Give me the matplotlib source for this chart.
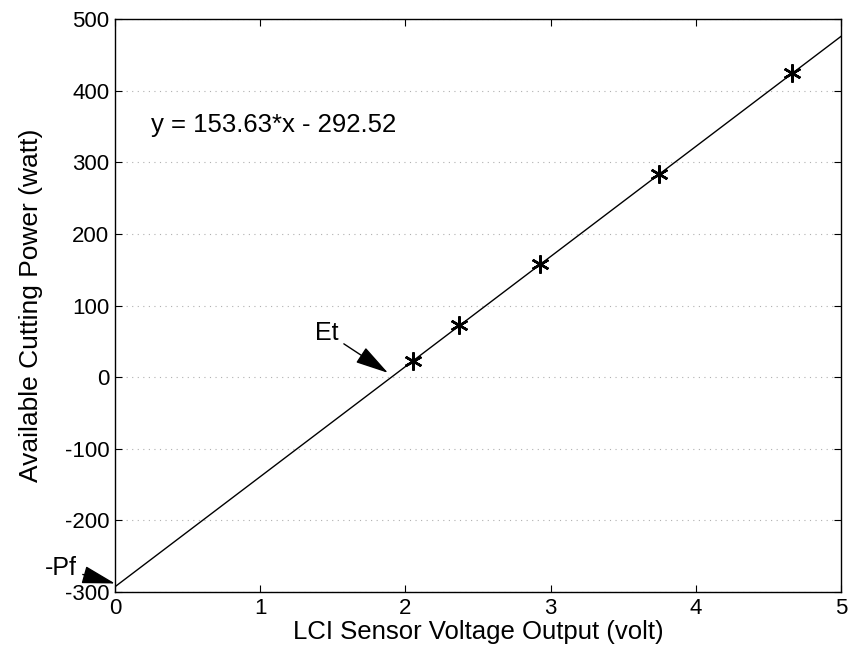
import numpy as np
import matplotlib.pyplot as plt

plt.rcParams['font.family'] = ['Liberation Sans', 'DejaVu Sans']
plt.rcParams['axes.unicode_minus'] = False

# measured points (volt, watt)
volts = [2.05, 2.37, 2.93, 3.75, 4.66]
power = [22, 73, 158, 284, 425]

# linear fit shown on the chart
slope = 153.63
intercept = -292.52
fit_x = [0, 5]

xticks = [0, 1, 2, 3, 4, 5]
yticks = [-300, -200, -100, 0, 100, 200, 300, 400, 500]

fig = plt.figure(figsize=(8.49, 6.66), dpi=100)
ax = fig.add_axes([0.1355, 0.111, 0.855, 0.8605])

fit_y = [slope * x + intercept for x in fit_x]
ax.plot(fit_x, fit_y, color='black', lw=1.0)
ax.plot(volts, power, linestyle='none', marker=(6, 2, 0), markersize=13,
        markeredgewidth=1.8, color='black')

ax.set_xlim(0, 5)
ax.set_ylim(-300, 500)
ax.set_xticks(xticks)
ax.set_yticks(yticks)
ax.tick_params(direction='in', top=True, right=True, labelsize=16, length=5, pad=4)
ax.grid(axis='y', linestyle=(0, (1, 4)), color='#b0b0b0', lw=0.8)

for s in ax.spines.values():
    s.set_linewidth(1.0)

ax.set_xlabel('LCI Sensor Voltage Output (volt)', fontsize=18.5, labelpad=1)
ax.set_ylabel('Available Cutting Power (watt)', fontsize=19, labelpad=16)

ax.text(0.25, 352, 'y = 153.63*x - 292.52', fontsize=18.5, va='center', ha='left')

arrow = dict(arrowstyle='-|>,head_length=1.3,head_width=0.35', mutation_scale=16,
             color='black', lw=1.0, shrinkA=2, shrinkB=0)
ax.annotate('Et', xy=(1.88, 6), xytext=(1.46, 62), fontsize=18,
            ha='center', va='center', arrowprops=arrow)
ax.annotate('-Pf', xy=(0, -288), xytext=(-0.37, -267), fontsize=18,
            ha='center', va='center', arrowprops=arrow, annotation_clip=False)

fig.savefig('out.png', dpi=100)
